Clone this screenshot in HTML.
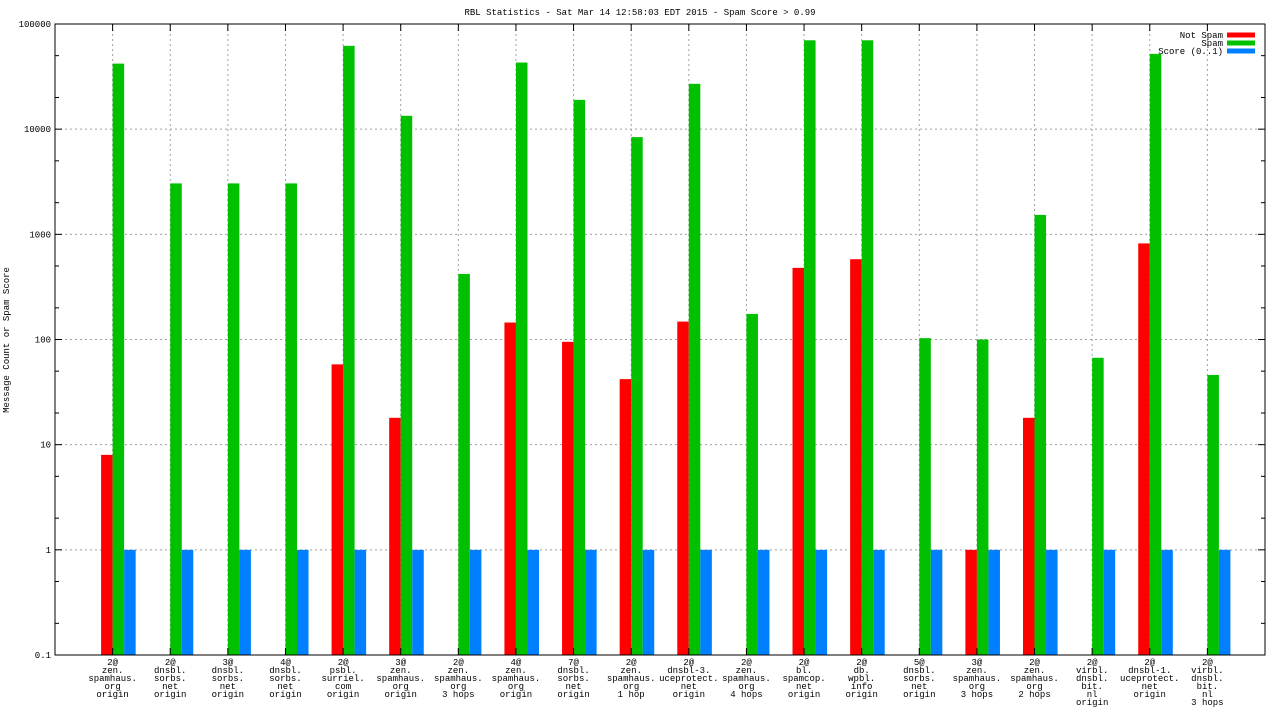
<!DOCTYPE html>
<html><head><meta charset="utf-8"><style>
body{margin:0;background:#fff;}
svg text{font-family:"Liberation Mono","DejaVu Sans Mono",monospace;font-size:9px;fill:#000;}
</style></head><body>
<svg id="chart" width="1280" height="720" xmlns="http://www.w3.org/2000/svg">
<text x="640" y="15" text-anchor="middle">RBL Statistics - Sat Mar 14 12:58:03 EDT 2015 - Spam Score &gt; 0.99</text>
<text transform="translate(9,340) rotate(-90)" text-anchor="middle">Message Count or Spam Score</text>
<g id="grid"></g><g id="bars"></g><g id="axes"></g>
</svg>
<script>
const categories=[
["2@","zen.","spamhaus.","org","origin"],["2@","dnsbl.","sorbs.","net","origin"],["3@","dnsbl.","sorbs.","net","origin"],["4@","dnsbl.","sorbs.","net","origin"],["2@","psbl.","surriel.","com","origin"],["3@","zen.","spamhaus.","org","origin"],["2@","zen.","spamhaus.","org","3 hops"],["4@","zen.","spamhaus.","org","origin"],["7@","dnsbl.","sorbs.","net","origin"],["2@","zen.","spamhaus.","org","1 hop"],["2@","dnsbl-3.","uceprotect.","net","origin"],["2@","zen.","spamhaus.","org","4 hops"],["2@","bl.","spamcop.","net","origin"],["2@","db.","wpbl.","info","origin"],["5@","dnsbl.","sorbs.","net","origin"],["3@","zen.","spamhaus.","org","3 hops"],["2@","zen.","spamhaus.","org","2 hops"],["2@","virbl.","dnsbl.","bit.","nl","origin"],["2@","dnsbl-1.","uceprotect.","net","origin"],["2@","virbl.","dnsbl.","bit.","nl","3 hops"]];
const notSpam=[8,0,0,0,58,18,0,145,95,42,148,0,480,580,0,1,18,0,820,0];
const spam=[42000,3050,3050,3050,62000,13400,420,43000,19000,8400,27000,175,70000,70000,103,100,1530,67,52000,46];
const score=[1,1,1,1,1,1,1,1,1,1,1,1,1,1,1,1,1,1,1,1];
const yTicks=[0.1,1,10,100,1000,10000,100000];
const yTickLabels=["0.1","1","10","100","1000","10000","100000"];
const seriesNames=["Not Spam","Spam","Score (0..1)"];
const colors=["#ff0000","#00c000","#0080ff"];
const L=55,R=1265,T=24,B=655;
const ns="http://www.w3.org/2000/svg";
function x(v){return L+(v+1)*(R-L)/21;}
function y(v){return B-(Math.log10(v)+1)*(B-T)/6;}
function mk(tag,attrs,parent){const e=document.createElementNS(ns,tag);for(const k in attrs)e.setAttribute(k,attrs[k]);parent.appendChild(e);return e;}
const grid=document.getElementById('grid'),bars=document.getElementById('bars'),axes=document.getElementById('axes');
yTicks.forEach((t,i)=>{
 const yy=y(t);
 if(i>0&&i<yTicks.length-1){const g=mk('line',{x1:L,x2:R,y1:yy,y2:yy,stroke:'#a0a0a0','stroke-dasharray':'2,3'},grid);
 
 }
 mk('line',{x1:L,x2:L+7,y1:yy,y2:yy,stroke:'#000'},axes);
 mk('line',{x1:R,x2:R-7,y1:yy,y2:yy,stroke:'#000'},axes);
 const tx=mk('text',{x:L-4,y:yy+3,'text-anchor':'end'},axes);tx.textContent=yTickLabels[i];
 
 
 if(i<yTicks.length-1)[2,5].forEach(m=>{const my=y(t*m);mk('line',{x1:L,x2:L+4,y1:my,y2:my,stroke:'#000'},axes);mk('line',{x1:R,x2:R-4,y1:my,y2:my,stroke:'#000'},axes);});
});
const bw=(R-L)/21*0.2;
categories.forEach((c,i)=>{
 const cx=x(i);
 const g=mk('line',{x1:cx,x2:cx,y1:T,y2:B,stroke:'#a0a0a0','stroke-dasharray':'2,3'},grid);
 
 
 mk('line',{x1:cx,x2:cx,y1:B,y2:B-7,stroke:'#000'},axes);
 mk('line',{x1:cx,x2:cx,y1:T,y2:T+7,stroke:'#000'},axes);
 [notSpam,spam,score].forEach((s,k)=>{
  const v=s[i]; if(!v) return;
  const x0=cx-bw+k*bw;
  const r=mk('rect',{x:x0,y:y(v),width:bw,height:B-y(v),fill:colors[k]},bars);
  
  
 });
 const t=mk('text',{x:cx,y:665,'text-anchor':'middle'},axes);
 
 
 c.forEach((ln,j)=>{const s=mk('tspan',{x:cx,dy:j?8:0},t);s.textContent=ln;});
});
mk('rect',{x:L,y:T,width:R-L,height:B-T,fill:'none',stroke:'#000'},axes);
seriesNames.forEach((n,k)=>{
 const ly=35+k*8;
 const t=mk('text',{x:1223,y:ly+3,'text-anchor':'end'},axes);t.textContent=n;
 
 
 const r=mk('rect',{x:1227,y:ly-2.5,width:28,height:5,fill:colors[k]},axes);
 
 
});
</script>
</body></html>
